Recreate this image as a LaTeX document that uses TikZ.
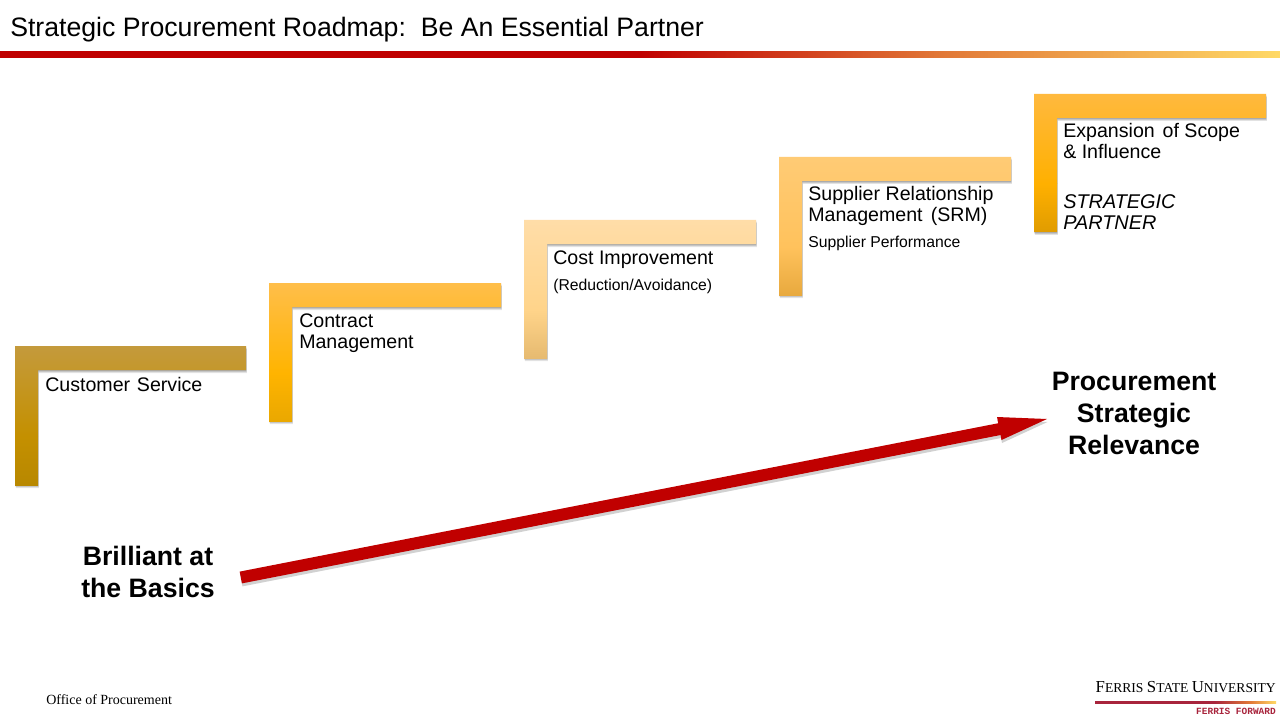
\documentclass[tikz,border=0pt]{standalone}
\usepackage{fontspec}
\setmainfont{Liberation Sans}
\newfontfamily\serifx{Liberation Serif}
\newfontfamily\monox{Liberation Mono}
\definecolor{ferrisred}{HTML}{C00000}
\definecolor{bandorange}{HTML}{E27A38}
\definecolor{bandyellow}{HTML}{FFD966}
\definecolor{logored}{HTML}{A8243C}
\pgfdeclarehorizontalshading{bandshade}{100bp}{color(0bp)=(ferrisred); color(25bp)=(ferrisred); color(50bp)=(ferrisred); color(62bp)=(bandorange); color(75bp)=(bandyellow); color(100bp)=(bandyellow)}
\pgfdeclarehorizontalshading{logoshade}{100bp}{color(0bp)=(logored); color(25bp)=(logored); color(58bp)=(logored); color(68bp)=(bandorange); color(75bp)=(bandyellow); color(100bp)=(bandyellow)}
\newcommand{\fsz}[2]{\fontsize{#1}{#2}\selectfont}
\tikzset{
  x=0.75pt,y=-0.75pt,
  steptext/.style={anchor=north west,inner sep=0,align=left,font=\fsz{14.7}{15.75}},
  subtext/.style={anchor=north west,inner sep=0,align=left,font=\fsz{11.8}{15}},
  boldtext/.style={inner sep=0,align=center,font=\bfseries\fsz{20}{24}},
  shadowlayer/.style={fill=black,fill opacity=0.10,draw=none}
}
\newcommand{\stepL}[8]{%
 \definecolor{stA}{HTML}{#5}\definecolor{stB}{HTML}{#6}\definecolor{stC}{HTML}{#7}%
 \begin{scope}[shift={(#1,#2)}]
  \foreach \d in {0.6,1.4,2.2,3.0}{
   \fill[shadowlayer] (0+\d*0.3,\d) -- (#3+\d*0.3,\d) -- (#3+\d*0.3,24+\d) -- (23+\d*0.3,24+\d) -- (23+\d*0.3,#4+\d) -- (0+\d*0.3,#4+\d) -- cycle;
  }
  \shade[top color=stA,bottom color=stB,draw=none] (0,0) -- (#3,0) -- (#3,24) -- (23,24) -- (23,#8) -- (0,#8) -- cycle;
  \shade[top color=stB,bottom color=stC,draw=none] (0,#8) rectangle (23,#4);
 \end{scope}}
\newcommand{\bigarrowshape}[2]{%
  \draw[#2,line width=9pt] ([shift={#1}]arrowA) -- ([shift={#1}]arrowM);
  \fill[#2] ([shift={#1}]arrowTip) -- ([shift={#1}]arrowBackL) -- ([shift={#1}]arrowBackR) -- cycle;}
\begin{document}
\begin{tikzpicture}
\useasboundingbox (0,0) rectangle (1280,720);
\fill[white] (0,0) rectangle (1280,720);
% header band
\shade[shading=bandshade] (0,51.6) rectangle (1280,58);
\node[anchor=base west,inner sep=0,font=\fsz{20}{24}] (title) at (10,37) {Strategic Procurement Roadmap:\ \ Be An Essential Partner};
% steps
\stepL{15}{346}{231}{139}{C49A3C}{C49000}{B88800}{90}
\stepL{269}{283}{232}{138}{FFBE4A}{FFB400}{EAA800}{90}
\stepL{524}{220}{232}{138}{FFDDA8}{FFD48A}{E6BA70}{90}
\stepL{779}{157}{232}{138}{FFCB75}{FFC25C}{E8A93E}{90}
\stepL{1034}{94}{232}{138}{FFB93E}{FFB000}{E09C00}{90}
% labels
\node[steptext] (s1) at (45,377.5) {Customer\hspace{1pt} Service};
\node[steptext] (s2) at (299,313.5) {Contract\\Management};
\node[steptext] (s3) at (553,250.5) {Cost Improvement};
\node[subtext] (s3b) at (553,279) {(Reduction/Avoidance)};
\node[steptext] (s4) at (808,186.5) {Supplier Relationship\\Management\hspace{2pt} (SRM)};
\node[subtext] (s4b) at (808,236) {Supplier Performance};
\node[steptext] (s5) at (1063,123.5) {Expansion\hspace{1.8pt} of Scope\\\& Influence};
\node[steptext,font=\itshape\fsz{14.9}{15.75}] (s5b) at (1063,194.5) {STRATEGIC\\PARTNER};
% big arrow
\node[boldtext] (basics) at (148,572) {Brilliant at\\the Basics};
\node[boldtext] (relevance) at (1134,413) {Procurement\\Strategic\\Relevance};
\coordinate (arrowA) at (240.8,577.5);
\coordinate (arrowM) at (1000,429);
\coordinate (arrowTip) at (1047,419);
\coordinate (arrowBackL) at (997,417);
\coordinate (arrowBackR) at (1001.5,440);
\bigarrowshape{(0.5,3)}{black!18}
\bigarrowshape{(0,0)}{ferrisred}
% footer
\node[anchor=base west,inner sep=0,font=\serifx\fsz{10.5}{12}] (office) at (46,704) {Office of Procurement};
\node[anchor=base east,inner sep=0,font=\serifx\fsz{12.6}{14}] (ferris) at (1276,692.5) {F\fsz{10.2}{14}ERRIS \fsz{12.6}{14}S\fsz{10.2}{14}TATE \fsz{12.6}{14}U\fsz{10.2}{14}NIVERSITY};
\shade[shading=logoshade] (1095,701.5) rectangle (1276,703);
\node[anchor=base east,inner sep=0,text=logored,font=\monox\bfseries\fsz{7.1}{8}] (forward) at (1276,714) {FERRIS FORWARD};
\end{tikzpicture}
\end{document}
